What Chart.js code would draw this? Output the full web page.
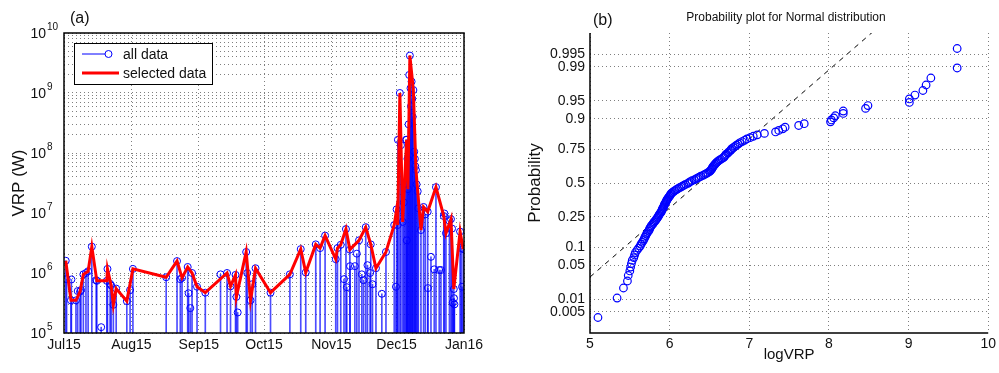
<!DOCTYPE html>
<html>
<head>
<meta charset="utf-8">
<script src="https://cdn.jsdelivr.net/npm/chart.js@4.4.1/dist/chart.umd.min.js"></script>
<style>
  html, body { margin: 0; padding: 0; background: #fff; }
  #wrap { position: relative; width: 999px; height: 373px; }
  #wrap canvas { position: absolute; top: 0; }
  #cA { left: 0; }
  #cB { left: 490px; }
</style>
</head>
<body>
<div id="wrap">
  <canvas id="cA" width="490" height="373" style="width:490px;height:373px"></canvas>
  <canvas id="cB" width="509" height="373" style="width:509px;height:373px"></canvas>
</div>
<script>
'use strict';

// ── panel (a): days counted from 1 Jul 2015 ─────────
const monthTicks  = [0, 31, 62, 92, 123, 153, 184];
const monthLabels = ['Jul15', 'Aug15', 'Sep15', 'Oct15', 'Nov15', 'Dec15', 'Jan16'];

const allDays = [
  0.8, 1.2, 3.2, 3.4, 5.5, 6.3, 7.4, 7.8, 8.9, 10.1, 11.1, 12.8, 14.8, 15.1, 17.1, 19.7, 20.0,
  21.2, 21.7, 22.7, 24.0, 28.9, 30.4, 31.7, 47.0, 52.0, 53.5, 54.3, 56.9, 57.3, 58.1, 58.9,
  61.2, 65.0, 72.0, 75.0, 76.6, 78.9, 79.3, 79.9, 83.8, 84.3, 85.8, 86.6, 88.1, 95.0, 103.9,
  108.9, 111.2, 115.8, 117.8, 120.1, 125.0, 125.8, 127.3, 128.8, 129.7, 130.1, 131.5, 131.6,
  133.8, 134.7, 135.7, 137.0, 137.8, 138.8, 139.6, 140.8, 141.1, 141.9, 143.5, 146.2, 148.1,
  151.9, 152.7, 153.0, 153.5, 153.6, 154.5, 155.0, 155.8, 156.3, 156.8, 157.3, 157.6, 157.7,
  158.0, 158.2, 158.5, 158.8, 159.1, 159.4, 159.6, 159.9, 160.2, 160.4, 160.7, 161.1, 161.4,
  161.6, 161.9, 162.2, 162.7, 163.0, 164.2, 165.4, 166.2, 167.3, 167.4, 168.8, 170.3, 171.1,
  172.6, 173.4, 174.7, 175.0, 175.7, 177.3, 178.0, 178.5, 178.8, 179.3, 179.4, 179.6, 182.2,
  182.7, 183.1, 183.6
];
const allVrp = [
  1.6e6, 7.9e5, 3.5e5, 7.8e5, 3.5e5, 5.0e5, 4.9e5, 5.2e5, 9.5e5, 1.0e6, 1.07e6, 2.75e6, 7.6e5, 7.4e5, 1.25e5, 7.4e5, 1.17e6,
  6.6e5, 6.2e5, 2.95e5, 5.5e5, 3.4e5, 5.2e5, 1.17e6, 8.5e5, 1.58e6, 7.9e5, 8.3e5, 1.26e6, 4.6e5, 2.6e5, 1.0e6,
  5.9e5, 4.7e5, 9.5e5, 1.0e6, 6.0e5, 9.3e5, 4.0e5, 2.2e5, 2.24e6, 1.0e6, 3.5e5, 6.5e5, 1.2e6, 4.7e5, 9.5e5,
  2.5e6, 1.02e6, 3.0e6, 2.6e6, 4.2e6, 1.7e6, 2.6e6, 2.95e6, 7.9e5, 5.4e6, 5.8e5, 2.45e6, 1.3e6,
  1.3e6, 2.1e6, 3.5e6, 9.5e5, 7.6e5, 5.8e6, 1.35e6, 1.0e6, 3.0e6, 6.5e5, 1.2e6, 4.5e5, 2.24e6,
  6.3e6, 5.9e5, 1.15e7, 6.3e6, 1.66e8, 1.0e9, 1.35e8, 7.1e6, 1.5e7, 3.0e7, 1.66e8, 1.66e8, 3.5e6,
  8.0e7, 2.5e7, 3.0e8, 2.0e9, 4.2e9, 1.2e9, 6.0e8, 1.55e9, 8.0e8, 4.0e8, 1.12e9, 1.05e8, 8.0e7,
  6.0e7, 5.2e7, 3.0e7, 2.3e7, 1.2e7, 5.2e6, 1.26e7, 9.5e6, 1.05e7, 5.6e5, 1.86e6, 1.15e6, 2.7e7,
  1.12e6, 1.12e6, 8.9e6, 9.8e6, 4.6e6, 7.4e6, 7.9e6, 5.5e6, 3.2e5, 5.4e5, 3.8e5, 3.0e5, 4.9e6,
  2.6e6, 5.9e5, 2.5e6
];

const selDays = [
  0.8, 3.2, 5.5, 7.4, 8.9, 11.1, 12.8, 15.1, 19.7, 20.0, 21.7, 22.7, 24.0, 28.9, 31.7, 47.0,
  52.0, 54.3, 56.9, 58.9, 61.2, 65.0, 75.0, 76.6, 78.9, 79.3, 83.8, 85.8, 88.1, 95.0, 103.9,
  108.9, 111.2, 115.8, 117.8, 120.1, 125.0, 125.8, 127.3, 129.7, 131.5, 135.7, 138.8, 141.1,
  143.5, 148.1, 151.9, 153.0, 153.5, 154.5, 155.8, 157.6, 158.2, 159.1, 160.7, 161.9, 164.2,
  165.4, 167.3, 171.1, 174.7, 175.7, 178.0, 179.3, 182.2, 183.6
];
const selVrp = [
  1.6e6, 3.5e5, 3.5e5, 4.9e5, 9.5e5, 1.07e6, 2.75e6, 7.4e5, 7.4e5, 1.17e6, 6.2e5, 2.95e5, 5.5e5, 3.4e5, 1.17e6, 8.5e5,
  1.58e6, 8.3e5, 1.26e6, 1.0e6, 5.9e5, 4.7e5, 1.0e6, 6.0e5, 9.3e5, 4.0e5, 2.24e6, 3.5e5, 1.2e6, 4.7e5, 9.5e5,
  2.5e6, 1.02e6, 3.0e6, 2.6e6, 4.2e6, 1.7e6, 2.6e6, 2.95e6, 5.4e6, 2.45e6, 3.5e6, 5.8e6, 3.0e6,
  1.2e6, 2.24e6, 6.3e6, 1.15e7, 6.3e6, 1.0e9, 7.1e6, 1.66e8, 2.5e7, 4.2e9, 1.12e9, 5.2e7, 5.2e6,
  1.26e7, 1.05e7, 2.7e7, 8.9e6, 4.6e6, 7.9e6, 5.4e5, 4.9e6, 2.5e6
];

// ── panel (b): sorted log10(VRP) values ──────────────
const logVrp = [
  5.10, 5.34, 5.42, 5.47, 5.48, 5.50, 5.51, 5.52, 5.53, 5.55,
  5.56, 5.57, 5.59, 5.61, 5.63, 5.64, 5.655, 5.67, 5.68, 5.69,
  5.70, 5.71, 5.72, 5.735, 5.745, 5.75, 5.76, 5.77, 5.785, 5.795,
  5.805, 5.82, 5.83, 5.84, 5.85, 5.86, 5.865, 5.875, 5.885, 5.895,
  5.90, 5.905, 5.91, 5.92, 5.925, 5.93, 5.935, 5.94, 5.95, 5.955,
  5.96, 5.965, 5.975, 5.98, 5.99, 6.00, 6.005, 6.015, 6.02, 6.035,
  6.05, 6.065, 6.085, 6.10, 6.12, 6.14, 6.16, 6.18, 6.20, 6.23,
  6.24, 6.26, 6.28, 6.31, 6.33, 6.35, 6.37, 6.39, 6.42, 6.44,
  6.46, 6.48, 6.50, 6.51, 6.52, 6.53, 6.535, 6.54, 6.55, 6.56,
  6.57, 6.58, 6.59, 6.605, 6.62, 6.64, 6.66, 6.68, 6.69, 6.70,
  6.71, 6.73, 6.74, 6.76, 6.77, 6.78, 6.80, 6.82, 6.84, 6.86,
  6.88, 6.91, 6.94, 6.97, 7.01, 7.05, 7.10, 7.19, 7.33, 7.37,
  7.42, 7.45, 7.62, 7.69, 8.02, 8.03, 8.06, 8.08, 8.18, 8.18,
  8.46, 8.49, 9.01, 9.01, 9.08, 9.18, 9.22, 9.28, 9.61, 9.61
];
const probTicks  = [0.005, 0.01, 0.05, 0.1, 0.25, 0.5, 0.75, 0.9, 0.95, 0.99, 0.995];
const probLabels = ['0.005', '0.01', '0.05', '0.1', '0.25', '0.5', '0.75', '0.9', '0.95', '0.99', '0.995'];
const refLineX = [5.0, 8.6];
const refLineP = [0.030, 0.999];

const FONT = '"Liberation Sans", Arial, Helvetica, sans-serif';
const INK  = '#111';
const BLUE = '#0000ff';
Chart.defaults.font.family = FONT;
Chart.defaults.color = INK;

// inverse of the standard normal cdf (Acklam) – maps probability to the plot's z axis
function normInv(p) {
  const a = [-3.969683028665376e+01, 2.209460984245205e+02, -2.759285104469687e+02, 1.383577518672690e+02, -3.066479806614716e+01, 2.506628277459239e+00];
  const b = [-5.447609879822406e+01, 1.615858368580409e+02, -1.556989798598866e+02, 6.680131188771972e+01, -1.328068155288572e+01];
  const c = [-7.784894002430293e-03, -3.223964580411365e-01, -2.400758277161838e+00, -2.549671010115550e+00, 4.374664141464968e+00, 2.938163982698783e+00];
  const d = [7.784695709041462e-03, 3.224671290700398e-01, 2.445134137142996e+00, 3.754408661907416e+00];
  const lo = 0.02425;
  if (p < lo) {
    const q = Math.sqrt(-2 * Math.log(p));
    return (((((c[0]*q+c[1])*q+c[2])*q+c[3])*q+c[4])*q+c[5]) / ((((d[0]*q+d[1])*q+d[2])*q+d[3])*q+1);
  }
  if (p > 1 - lo) {
    const q = Math.sqrt(-2 * Math.log(1 - p));
    return -(((((c[0]*q+c[1])*q+c[2])*q+c[3])*q+c[4])*q+c[5]) / ((((d[0]*q+d[1])*q+d[2])*q+d[3])*q+1);
  }
  const q = p - 0.5, r = q * q;
  return (((((a[0]*r+a[1])*r+a[2])*r+a[3])*r+a[4])*r+a[5])*q / (((((b[0]*r+b[1])*r+b[2])*r+b[3])*r+b[4])*r+1);
}

const dotGrid = { color: 'rgba(0,0,0,0.5)', lineWidth: 1, drawTicks: false, offset: false };
const dotBorder = { display: false, dash: [1, 3] };
const tickFont = { family: FONT, size: 14 };

// ── panel (a) extras: frame, 10^n labels, legend ────
const panelA = {
  id: 'panelA',
  afterDraw(chart) {
    const { ctx, chartArea: a, scales: { y } } = chart;
    ctx.save();
    ctx.strokeStyle = '#000';
    ctx.lineWidth = 1.5;
    ctx.strokeRect(a.left, a.top, a.right - a.left, a.bottom - a.top);

    ctx.fillStyle = INK;
    ctx.textBaseline = 'middle';
    y.ticks.filter(t => t.major).forEach(t => {
      const py = y.getPixelForValue(t.value);
      ctx.font = `14px ${FONT}`; ctx.textAlign = 'right';
      ctx.fillText('10', 46, py + 1);
      ctx.font = `10px ${FONT}`; ctx.textAlign = 'left';
      ctx.fillText(String(Math.round(Math.log10(t.value))), 47, py - 6);
    });

    ctx.font = `16px ${FONT}`; ctx.textAlign = 'left';
    ctx.fillText('(a)', 70, 19);

    // legend
    ctx.fillStyle = '#fff';
    ctx.fillRect(74.5, 43.5, 138, 41);
    ctx.strokeStyle = '#000'; ctx.lineWidth = 1;
    ctx.strokeRect(74.5, 43.5, 138, 41);
    ctx.strokeStyle = BLUE;
    ctx.beginPath(); ctx.moveTo(82, 54); ctx.lineTo(105, 54); ctx.stroke();
    ctx.beginPath(); ctx.arc(108.5, 54, 3.5, 0, Math.PI * 2); ctx.stroke();
    ctx.strokeStyle = '#ff0000'; ctx.lineWidth = 3;
    ctx.beginPath(); ctx.moveTo(82, 73); ctx.lineTo(119, 73); ctx.stroke();
    ctx.fillStyle = INK; ctx.font = `14px ${FONT}`;
    ctx.fillText('all data', 123, 55);
    ctx.fillText('selected data', 123, 74);
    ctx.restore();
  }
};

// ── panel (b) extras: axes lines, title, tag ────────
const panelB = {
  id: 'panelB',
  afterDraw(chart) {
    const { ctx, chartArea: a } = chart;
    ctx.save();
    ctx.strokeStyle = '#000'; ctx.lineWidth = 1.5;
    ctx.beginPath();
    ctx.moveTo(a.left, a.top); ctx.lineTo(a.left, a.bottom); ctx.lineTo(a.right, a.bottom);
    ctx.stroke();
    ctx.fillStyle = INK; ctx.textBaseline = 'middle';
    ctx.font = `16px ${FONT}`; ctx.textAlign = 'left';
    ctx.fillText('(b)', 103, 21);
    ctx.font = `12px ${FONT}`; ctx.textAlign = 'center';
    ctx.fillText('Probability plot for Normal distribution', 296, 18);
    ctx.restore();
  }
};

const allPts = allDays.map((d, i) => ({ x: d, y: allVrp[i] }));
const selPts = selDays.map((d, i) => ({ x: d, y: selVrp[i] }));

new Chart(document.getElementById('cA'), {
  type: 'scatter',
  data: {
    datasets: [
      { type: 'bar', data: allPts, backgroundColor: 'rgba(0,0,255,0.7)', borderWidth: 0, barThickness: 1, order: 3 },
      { type: 'scatter', data: allPts, pointRadius: 3.5, pointBorderWidth: 1,
        pointBorderColor: BLUE, pointBackgroundColor: 'rgba(0,0,0,0)', order: 2 },
      { type: 'line', data: selPts, borderColor: '#ff0000', borderWidth: 3, pointRadius: 0,
        tension: 0, fill: false, order: 1 }
    ]
  },
  options: {
    responsive: false,
    animation: false,
    layout: { padding: { left: 0, right: 26, top: 33, bottom: 0 } },
    plugins: { legend: { display: false }, tooltip: { enabled: false } },
    scales: {
      x: {
        type: 'linear', offset: false, min: monthTicks[0], max: monthTicks[monthTicks.length - 1],
        afterBuildTicks: s => { s.ticks = monthTicks.map(v => ({ value: v })); },
        afterFit: s => { s.height = 40; },
        ticks: { font: tickFont, color: INK, padding: 4, maxRotation: 0, autoSkip: false,
                 callback: v => monthLabels[monthTicks.indexOf(v)] },
        grid: dotGrid, border: dotBorder
      },
      y: {
        type: 'logarithmic', min: 1e5, max: 1e10,
        afterBuildTicks: s => {
          const t = [];
          for (let e = 5; e < 10; e++) for (let m = 1; m < 10; m++) t.push({ value: m * Math.pow(10, e), major: m === 1 });
          t.push({ value: 1e10, major: true });
          s.ticks = t;
        },
        afterFit: s => { s.width = 64; },
        ticks: { display: false },
        grid: dotGrid, border: dotBorder,
        title: { display: true, text: 'VRP (W)', color: INK, font: { family: FONT, size: 17 },
                 padding: { top: 9, bottom: 0 } }
      }
    }
  },
  plugins: [panelA]
});

const n = logVrp.length;
const probPts = logVrp.map((v, i) => ({ x: v, y: normInv((i + 0.5) / n) }));
const refPts = refLineX.map((v, i) => ({ x: v, y: normInv(refLineP[i]) }));

new Chart(document.getElementById('cB'), {
  type: 'scatter',
  data: {
    datasets: [
      { type: 'line', data: refPts, borderColor: '#000', borderWidth: 1, borderDash: [5, 5],
        pointRadius: 0, fill: false, order: 2 },
      { type: 'scatter', data: probPts, pointRadius: 3.8, pointBorderWidth: 1.2,
        pointBorderColor: BLUE, pointBackgroundColor: 'rgba(0,0,0,0)', order: 1 }
    ]
  },
  options: {
    responsive: false,
    animation: false,
    layout: { padding: { left: 0, right: 10, top: 33, bottom: 0 } },
    plugins: { legend: { display: false }, tooltip: { enabled: false } },
    scales: {
      x: {
        type: 'linear', min: 5, max: 10,
        afterFit: s => { s.height = 40; },
        ticks: { stepSize: 1, font: tickFont, color: INK, padding: 3, maxRotation: 0 },
        grid: dotGrid, border: dotBorder,
        title: { display: true, text: 'logVRP', color: INK, font: { family: FONT, size: 15 },
                 padding: { top: 0, bottom: 9 } }
      },
      y: {
        type: 'linear', min: -3, max: 3,
        afterBuildTicks: s => { s.ticks = probTicks.map(p => ({ value: normInv(p) })); },
        afterFit: s => { s.width = 100; },
        ticks: { font: tickFont, color: INK, padding: 5, callback: (v, i) => probLabels[i] },
        grid: dotGrid, border: dotBorder,
        title: { display: true, text: 'Probability', color: INK, font: { family: FONT, size: 17 },
                 padding: { top: 35, bottom: 0 } }
      }
    }
  },
  plugins: [panelB]
});
</script>
</body>
</html>
